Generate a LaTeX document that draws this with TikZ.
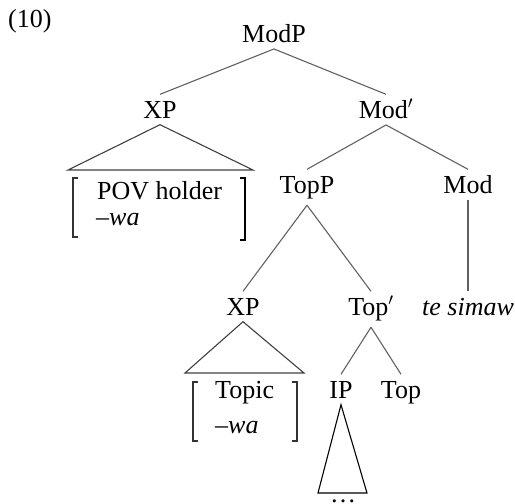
\documentclass[tikz,border=0pt]{standalone}
\usepackage{fontspec}
\setmainfont{Liberation Serif}
\begin{document}
\begin{tikzpicture}[x=1pt,y=-1pt,
 lab/.style={anchor=base, font=\fontsize{26}{31}\selectfont, text height=17pt, inner xsep=1pt, inner ysep=6.5pt},
 txt/.style={anchor=base west, font=\fontsize{26}{31}\selectfont, inner sep=0pt},
 edge/.style={draw=black!62, line width=1.1pt},
 tri/.style={draw=black!75, line width=1.1pt},
 brk/.style={draw=black!80, line width=1.1pt},
 brkb/.style={draw=black, line width=1.6pt}]
\useasboundingbox (0,0) rectangle (515,504);
% labels
\node[txt] (ex) at (8,27) {(10)};
\node[lab] (modp) at (274,42) {ModP};
\node[lab] (xp1) at (160,118) {XP};
\node[lab] (modbar) at (386,118) {Mod$'$};
\node[lab] (topp) at (307,193) {TopP};
\node[lab] (mod) at (468,193) {Mod};
\node[lab] (xp2) at (243,315) {XP};
\node[lab] (topbar) at (371,315) {Top$'$};
\node[lab] (tesimaw) at (468,315) {\textit{te simaw}};
\node[lab] (ip) at (341,398) {IP};
\node[lab] (top) at (401,398) {Top};
\node[txt] (pov) at (97,199) {POV holder};
\node[txt] (wa1) at (96,225) {\textit{--wa}};
\node[txt] (topic) at (215,398) {Topic};
\node[txt] (wa2) at (215,433) {\textit{--wa}};
\node[lab, inner ysep=0pt, text height=3pt, text depth=0pt] (dots) at (343,502) {\dots};
% branches
\draw[edge] (modp.south) -- (xp1.north);
\draw[edge] (modp.south) -- (modbar.north);
\draw[edge] (modbar.south) -- (topp.north);
\draw[edge] (modbar.south) -- (mod.north);
\draw[edge] (topp.south) -- (xp2.north);
\draw[edge] (topp.south) -- (topbar.north);
\draw[edge] (mod.south) -- (tesimaw.north);
\draw[edge] (topbar.south) -- (ip.north);
\draw[edge] (topbar.south) -- (top.north);
% triangles
\coordinate (t1l) at (68,170);
\coordinate (t1r) at (253,170);
\draw[tri] (t1l) -- (xp1.south) -- (t1r) -- cycle;
\coordinate (t2l) at (185,373);
\coordinate (t2r) at (304,373);
\draw[tri] (t2l) -- (xp2.south) -- (t2r) -- cycle;
\coordinate (t3l) at (318,493);
\coordinate (t3r) at (367,493);
\draw[tri, draw=black] (t3l) -- (ip.south) -- (t3r) -- cycle;
% brackets
\draw[brk] (78,178) -- (73,178) -- (73,237) -- (78,237);
\draw[brkb] (240,178) -- (245,178) -- (245,240) -- (240,240);
\draw[brk] (198,382) -- (193,382) -- (193,441) -- (198,441);
\draw[brk] (292,382) -- (297,382) -- (297,441) -- (292,441);
\end{tikzpicture}
\end{document}
